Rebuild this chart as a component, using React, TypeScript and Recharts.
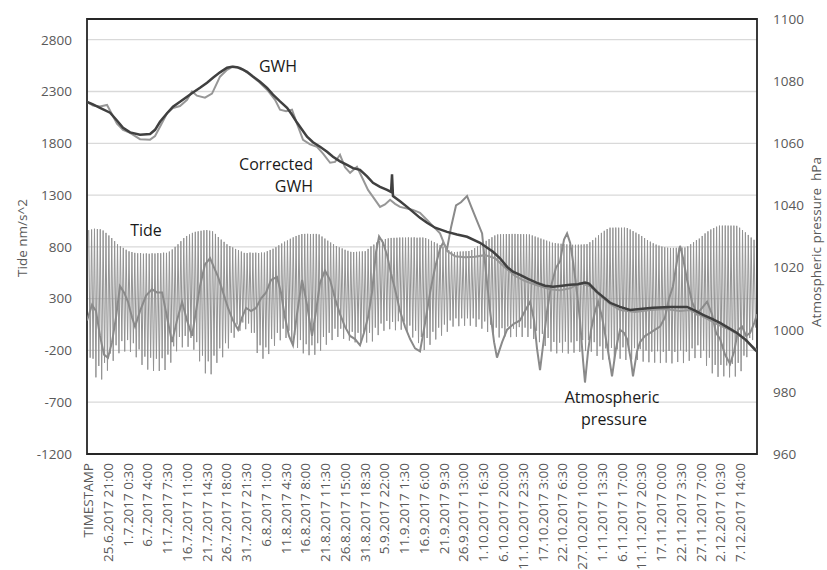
import React from 'react';
import { LineChart, Line, XAxis, YAxis, CartesianGrid, ReferenceArea } from 'recharts';

// ---- category labels (one every 123.5 h) ----
const xLabels = [
  'TIMESTAMP', '25.6.2017 21:00', '1.7.2017 0:30', '6.7.2017 4:00', '11.7.2017 7:30',
  '16.7.2017 11:00', '21.7.2017 14:30', '26.7.2017 18:00', '31.7.2017 21:30', '6.8.2017 1:00',
  '11.8.2017 4:30', '16.8.2017 8:00', '21.8.2017 11:30', '26.8.2017 15:00', '31.8.2017 18:30',
  '5.9.2017 22:00', '11.9.2017 1:30', '16.9.2017 6:00', '21.9.2017 9:30', '26.9.2017 13:00',
  '1.10.2017 16:30', '6.10.2017 20:00', '11.10.2017 23:30', '17.10.2017 3:00', '22.10.2017 6:30',
  '27.10.2017 10:00', '1.11.2017 13:30', '6.11.2017 17:00', '11.11.2017 20:30', '17.11.2017 0:00',
  '22.11.2017 3:30', '27.11.2017 7:00', '2.12.2017 10:30', '7.12.2017 14:00',
];
const LABEL_STEP_H = 123.5;
const xTicks = xLabels.map((_, i) => i * LABEL_STEP_H);

const leftTicks = [-1200, -700, -200, 300, 800, 1300, 1800, 2300, 2800];
const rightTicks = [960, 980, 1000, 1020, 1040, 1060, 1080, 1100];

// ---- Tide: successive high / low waters (one high + one low every 18 h) ----
const tideHigh = [
  962, 968, 975, 972, 970, 958, 935, 910, 885, 855,
  825, 805, 790, 772, 757, 750, 742, 738, 740, 734,
  737, 733, 738, 736, 740, 738, 744, 742, 755, 775,
  800, 825, 855, 885, 905, 920, 935, 945, 950, 955,
  960, 962, 956, 950, 925, 895, 870, 848, 825, 808,
  795, 780, 768, 755, 742, 740, 745, 742, 744, 740,
  745, 745, 758, 770, 782, 797, 815, 832, 850, 862,
  878, 892, 905, 915, 924, 925, 926, 924, 925, 925,
  920, 900, 880, 860, 842, 825, 808, 795, 785, 772,
  762, 752, 750, 752, 754, 756, 758, 780, 805, 822,
  842, 860, 868, 876, 882, 886, 887, 888, 890, 890,
  889, 891, 890, 892, 888, 890, 890, 885, 872, 858,
  845, 832, 818, 802, 785, 770, 755, 750, 752, 755,
  756, 758, 760, 770, 788, 805, 822, 840, 858, 875,
  893, 910, 920, 922, 922, 924, 924, 925, 925, 924,
  923, 922, 921, 920, 910, 900, 890, 880, 870, 860,
  850, 840, 836, 832, 830, 826, 824, 822, 820, 820,
  821, 822, 824, 826, 845, 865, 888, 912, 935, 955,
  972, 985, 985, 986, 985, 985, 986, 982, 968, 952,
  937, 922, 905, 885, 866, 850, 835, 822, 812, 803,
  796, 792, 790, 790, 791, 792, 793, 794, 805, 825,
  845, 865, 880, 905, 930, 950, 968, 982, 995, 1005,
  1005, 1006, 1005, 1005, 1005, 1003, 985, 962, 940, 915,
  890, 868,
];
const tideLow = [
  -270, -280, -460, -350, -480, -320, -395, -230, -300, -150,
  -227, -110, -210, -100, -215, -130, -266, -190, -340, -260,
  -385, -270, -397, -280, -398, -275, -389, -240, -318, -160,
  -208, -70, -170, -60, -165, -80, -193, -120, -305, -250,
  -421, -305, -430, -250, -320, -180, -266, -130, -180, -30,
  -77, 50, -10, 70, 5, 60, -30, -30, -225, -150,
  -280, -170, -235, -90, -155, -30, -102, 10, -80, -10,
  -125, -50, -175, -100, -228, -140, -246, -150, -242, -130,
  -202, -70, -145, -30, -100, 10, -70, 10, -88, 0,
  -105, -20, -122, -30, -128, -30, -124, -30, -113, 20,
  -52, 60, -10, 85, 5, 75, -5, 82, 0, 78,
  -21, 40, -75, -10, -129, -70, -196, -80, -146, -20,
  -94, 20, -57, 50, -20, 90, 30, 110, 34, 110,
  38, 110, 39, 110, 28, 100, 10, 80, -22, 50,
  -53, 20, -75, 15, -65, 30, -72, 10, -68, 25,
  -70, 20, -70, 10, -90, -10, -120, -40, -157, -80,
  -210, -118, -228, -125, -220, -115, -230, -122, -222, -110,
  -214, -100, -206, -100, -212, -120, -253, -160, -290, -180,
  -285, -175, -295, -190, -280, -170, -292, -185, -288, -178,
  -292, -188, -308, -202, -314, -212, -318, -208, -322, -214,
  -318, -205, -325, -215, -312, -200, -322, -212, -300, -180,
  -274, -150, -273, -200, -348, -270, -421, -340, -455, -340,
  -450, -345, -460, -330, -452, -320, -400, -250, -265, -80,
  -100, 20,
];
const TIDE_START_H = 4.5;
const TIDE_STEP_H = 9;

// ---- GWH (raw) ----
const gwhHours = [
  -6, 31, 75, 119, 150, 181, 219, 263, 325, 388, 419, 450, 494, 531, 575, 619, 650, 681, 731, 775,
  825, 869, 906, 950, 1013, 1063, 1119, 1169, 1200, 1238, 1275, 1306, 1344, 1388, 1431, 1469, 1513, 1544, 1575, 1606,
  1638, 1681, 1719, 1750, 1781, 1825, 1856, 1888, 1919, 1950, 1994, 2031, 2075, 2119, 2156, 2200, 2244, 2294, 2356, 2419,
  2481, 2544, 2606, 2669, 2731, 2806, 2888, 2950, 3013, 3075, 3138, 3200, 3263, 3325, 3419, 3513, 3606, 3700, 3763, 3825,
  3888, 3950, 4013, 4075, 4138, 4181,
];
const gwhValues = [
  2200, 2165, 2155, 2170, 2080, 1990, 1930, 1900, 1840, 1835, 1870, 1960, 2090, 2140, 2160, 2220, 2300, 2260, 2240, 2280,
  2443, 2510, 2540, 2530, 2462, 2400, 2317, 2220, 2124, 2110, 2124, 1990, 1834, 1790, 1766, 1700, 1612, 1620, 1689, 1570,
  1515, 1573, 1450, 1350, 1283, 1186, 1210, 1254, 1215, 1186, 1170, 1157, 1128, 1060, 1000, 930, 760, 710, 700, 705,
  720, 690, 600, 520, 470, 430, 390, 380, 400, 450, 420, 330, 250, 190, 170, 190, 200, 180, 190, 140,
  90, 40, 0, -60, -140, -200,
];

// ---- Corrected GWH ----
const corrHours = [
  -6, 31, 75, 138, 181, 219, 263, 325, 388, 419, 450, 494, 531, 575, 619, 656, 700, 744, 781, 825,
  869, 900, 931, 963, 994, 1031, 1075, 1119, 1156, 1200, 1244, 1275, 1306, 1338, 1369, 1406, 1450, 1494, 1531, 1575,
  1619, 1656, 1700, 1744, 1781, 1825, 1869, 1894, 1900, 1906, 1950, 1994, 2031, 2075, 2119, 2169, 2244, 2306, 2369, 2450,
  2531, 2575, 2619, 2656, 2700, 2750, 2806, 2856, 2906, 2963, 3013, 3063, 3106, 3131, 3181, 3219, 3263, 3325, 3388, 3450,
  3531, 3638, 3744, 3794, 3844, 3900, 3950, 4000, 4056, 4113, 4169, 4181,
];
const corrValues = [
  2200, 2175, 2143, 2095, 2020, 1950, 1905, 1882, 1890, 1930, 2008, 2090, 2153, 2200, 2250, 2290, 2336, 2385, 2433, 2485,
  2530, 2540, 2535, 2515, 2490, 2445, 2394, 2335, 2270, 2205, 2143, 2075, 2000, 1930, 1863, 1810, 1766, 1718, 1670, 1625,
  1592, 1560, 1544, 1480, 1418, 1380, 1350, 1330, 1500, 1290, 1240, 1186, 1138, 1080, 1032, 985, 945, 920, 897, 839,
  752, 690, 607, 560, 530, 490, 452, 425, 414, 425, 433, 440, 455, 445, 365, 317, 260, 220, 191, 200,
  211, 220, 220, 185, 143, 105, 66, 20, -31, -100, -195, -210,
];

// ---- Atmospheric pressure (hPa, right axis) ----
const pressHours = [
  -6, 25, 50, 75, 100, 125, 150, 175, 200, 225,
  250, 275, 294, 325, 363, 400, 431, 463, 494, 525,
  556, 588, 619, 650, 675, 700, 731, 763, 788, 813,
  844, 875, 906, 938, 963, 988, 1019, 1050, 1081, 1113,
  1144, 1181, 1206, 1231, 1256, 1281, 1306, 1338, 1369, 1400,
  1425, 1450, 1481, 1513, 1544, 1575, 1606, 1638, 1669, 1700,
  1725, 1750, 1775, 1800, 1819, 1844, 1869, 1894, 1919, 1950,
  1981, 2013, 2044, 2075, 2106, 2138, 2169, 2200, 2219, 2244,
  2269, 2300, 2331, 2369, 2400, 2431, 2463, 2488, 2513, 2538,
  2556, 2588, 2619, 2663, 2700, 2731, 2763, 2788, 2806, 2825,
  2844, 2869, 2894, 2925, 2950, 2975, 2994, 3013, 3031, 3056,
  3075, 3094, 3106, 3125, 3144, 3169, 3188, 3213, 3244, 3263,
  3275, 3300, 3325, 3350, 3369, 3394, 3406, 3431, 3450, 3481,
  3513, 3544, 3575, 3606, 3631, 3656, 3681, 3700, 3719, 3744,
  3775, 3806, 3838, 3869, 3900, 3925, 3950, 3981, 4013, 4038,
  4063, 4088, 4113, 4138, 4163, 4181,
];
const pressValues = [
  1003, 1008, 1006, 998, 992, 991, 996, 1004, 1014, 1012,
  1009, 1004, 1001, 1006, 1011, 1013, 1012, 1012, 1004, 996,
  1003, 1009, 1003, 998, 1006, 1014, 1021, 1023, 1020, 1017,
  1012, 1007, 1003, 1000, 1004, 1007, 1006, 1007, 1010, 1012,
  1016, 1017, 1012, 1004, 998, 995, 1005, 1016, 1008, 998,
  1006, 1015, 1019, 1016, 1010, 1005, 1001, 998, 997, 995,
  999, 1004, 1012, 1025, 1030, 1028, 1024, 1018, 1013, 1006,
  1001, 997, 994, 993, 1002, 1012, 1020, 1026, 1028, 1026,
  1033, 1040, 1041, 1043, 1039, 1035, 1031, 1018, 1006, 996,
  991, 996, 1000, 1002, 1003, 1006, 1009, 1003, 994, 987,
  995, 1006, 1014, 1020, 1022, 1029, 1031, 1028, 1022, 1012,
  1003, 990, 983, 993, 1000, 1006, 1009, 1004, 995, 989,
  985, 994, 1000, 999, 997, 990, 985, 993, 996, 998,
  999, 1000, 1001, 1004, 1010, 1014, 1022, 1027, 1023, 1016,
  1009, 1005, 1007, 1009, 1005, 999, 997, 992, 989, 993,
  1000, 1001, 998, 999, 1002, 1005,
];

// ---- build series tables ----
const tideData = tideHigh.flatMap((h, i) => [
  { t: TIDE_START_H + i * 2 * TIDE_STEP_H, v: h },
  { t: TIDE_START_H + (i * 2 + 1) * TIDE_STEP_H, v: tideLow[i] },
]);
const zip = (ts: number[], vs: number[]) => ts.map((t, i) => ({ t, v: vs[i] }));
const gwhData = zip(gwhHours, gwhValues);
const corrData = zip(corrHours, corrValues);
const pressData = zip(pressHours, pressValues);

const FONT = '"Open Sans", "Noto Sans", sans-serif';
const TICK_FILL = '#595959';

const XTick = (props: any) => {
  const { x, y, payload } = props;
  const idx = Math.round(payload.value / LABEL_STEP_H);
  return (
    <text
      transform={`translate(${x},${y + 1}) rotate(-90)`}
      textAnchor="end"
      dominantBaseline="central"
      fontSize={13.5}
      fontFamily={FONT}
      fill={TICK_FILL}
    >
      {xLabels[idx]}
    </text>
  );
};

export default function App() {
  return (
    <div style={{ position: 'fixed', left: 0, top: 0, width: 827, height: 570, background: '#fff' }}>
      <LineChart
        width={827}
        height={570}
        margin={{ top: 19, right: 0, bottom: 0, left: 0 }}
      >
        <CartesianGrid yAxisId="left" vertical={false} stroke="#d9d9d9" strokeWidth={1.3} />
        <XAxis
          dataKey="t"
          type="number"
          domain={[-6.25, 4181]}
          allowDataOverflow
          ticks={xTicks}
          interval={0}
          height={116}
          axisLine={false}
          tickLine={false}
          tick={<XTick />}
        />
        <YAxis
          yAxisId="left"
          domain={[-1200, 3000]}
          ticks={leftTicks}
          interval={0}
          allowDataOverflow
          width={87}
          axisLine={false}
          tickLine={false}
          tickMargin={9}
          tick={{ fontSize: 13.5, fill: TICK_FILL, fontFamily: FONT }}
        />
        <YAxis
          yAxisId="right"
          orientation="right"
          domain={[960, 1100]}
          ticks={rightTicks}
          interval={0}
          allowDataOverflow
          width={70}
          axisLine={false}
          tickLine={false}
          tickMargin={10}
          tick={{ fontSize: 13.5, fill: TICK_FILL, fontFamily: FONT }}
        />
        <Line
          data={tideData}
          yAxisId="left"
          dataKey="v"
          type="linear"
          stroke="#939393"
          strokeWidth={1}
          dot={false}
          isAnimationActive={false}
        />
        <Line
          data={pressData}
          yAxisId="right"
          dataKey="v"
          type="linear"
          stroke="#8a8a8a"
          strokeWidth={2}
          dot={false}
          isAnimationActive={false}
        />
        <Line
          data={gwhData}
          yAxisId="left"
          dataKey="v"
          type="linear"
          stroke="#979797"
          strokeWidth={2}
          dot={false}
          isAnimationActive={false}
        />
        <Line
          data={corrData}
          yAxisId="left"
          dataKey="v"
          type="linear"
          stroke="#404040"
          strokeWidth={2.5}
          dot={false}
          isAnimationActive={false}
        />
        <ReferenceArea
          yAxisId="left"
          x1={-6.25}
          x2={4181}
          y1={-1200}
          y2={3000}
          fill="none"
          stroke="#262626"
          strokeWidth={1.8}
          ifOverflow="visible"
        />
      </LineChart>
      <svg
        width={827}
        height={570}
        style={{ position: 'absolute', left: 0, top: 0, pointerEvents: 'none' }}
        fontFamily={FONT}
      >
        <text x={278} y={66} fontSize={16} textAnchor="middle" dominantBaseline="central" fill="#1a1a1a">GWH</text>
        <text x={313} y={164} fontSize={16} textAnchor="end" dominantBaseline="central" fill="#1a1a1a">Corrected</text>
        <text x={313} y={186} fontSize={16} textAnchor="end" dominantBaseline="central" fill="#1a1a1a">GWH</text>
        <text x={146} y={230} fontSize={16} textAnchor="middle" dominantBaseline="central" fill="#1a1a1a">Tide</text>
        <text x={612} y={397} fontSize={16} textAnchor="middle" dominantBaseline="central" fill="#1a1a1a">Atmospheric</text>
        <text x={614} y={419} fontSize={16} textAnchor="middle" dominantBaseline="central" fill="#1a1a1a">pressure</text>
        <text
          transform="translate(22,238) rotate(-90)"
          fontSize={13.5}
          textAnchor="middle"
          dominantBaseline="central"
          fill={TICK_FILL}
        >
          Tide nm/s^2
        </text>
        <text
          transform="translate(816,242) rotate(-90)"
          fontSize={13.5}
          textAnchor="middle"
          dominantBaseline="central"
          fill={TICK_FILL}
          style={{ whiteSpace: 'pre' }}
        >
          {'Atmospheric pressure  hPa'}
        </text>
      </svg>
    </div>
  );
}
